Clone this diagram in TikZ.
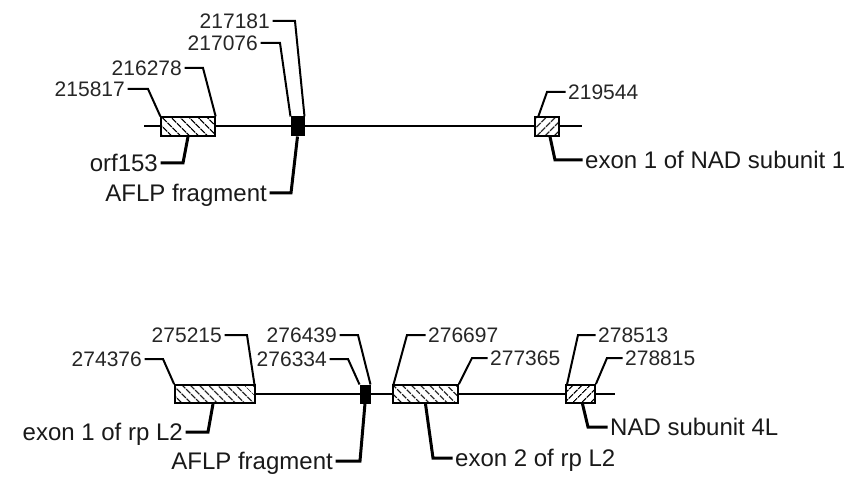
\documentclass[tikz,border=0pt]{standalone}
\usepackage{fontspec}
\setmainfont{Liberation Sans}
\usetikzlibrary{patterns.meta}
\tikzset{
  num/.style={inner sep=2.5pt, font=\fontsize{21}{25}\selectfont, text=black!85, text height=15pt, text depth=0pt},
  lab/.style={inner sep=2.5pt, font=\fontsize{24}{28}\selectfont, text=black!90, text height=17.2pt, text depth=0pt},
  numlead/.style={line width=2pt, black},
  lablead/.style={line width=3pt, black},
  axis/.style={line width=2pt, black},
  gene/.style={draw, line width=1.8pt, inner sep=0pt, preaction={fill=white}},
  hatchback/.style={gene, pattern={Lines[angle=-45, distance=6.5pt, line width=1.3pt]}},
  hatchfwd/.style={gene, pattern={Lines[angle=45, distance=6.5pt, line width=1.3pt]}},
  frag/.style={draw, fill=black, line width=1pt, inner sep=0pt}
}
\begin{document}
\begin{tikzpicture}[x=1pt,y=-1pt]
\useasboundingbox (0,0) rectangle (854,478);
% ---------- top row ----------
\coordinate (T0) at (144,126.5);
\coordinate (T1) at (582,126.5);
\draw[axis] (T0) -- (T1);
\node[hatchback, minimum width=54pt, minimum height=19pt] (orf) at (188,126.5) {};
\node[frag, minimum width=13pt, minimum height=19pt] (aflpA) at (297.5,126.5) {};
\node[hatchfwd, minimum width=24pt, minimum height=19pt] (nadA) at (547,126.5) {};

\node[num, anchor=east] (n215817) at (127.5,89) {215817};
\node[num, anchor=east] (n216278) at (184.5,68) {216278};
\node[num, anchor=east] (n217076) at (260.5,43) {217076};
\node[num, anchor=east] (n217181) at (272.5,21) {217181};
\node[num, anchor=west] (n219544) at (565.5,92) {219544};

\coordinate (b215817) at (148,89);
\coordinate (b216278) at (203,68);
\coordinate (b217076) at (280,43);
\coordinate (b217181) at (295,21);
\coordinate (b219544) at (547,92);
\draw[numlead] (n215817.east) -- (b215817) -- (orf.north west);
\draw[numlead] (n216278.east) -- (b216278) -- (orf.north east);
\draw[numlead] (n217076.east) -- (b217076) -- (aflpA.north west);
\draw[numlead] (n217181.east) -- (b217181) -- (aflpA.north east);
\draw[numlead] (n219544.west) -- (b219544) -- ([xshift=4pt]nadA.north west);

\node[lab, anchor=east] (lorf) at (160.5,163) {orf153};
\node[lab, anchor=east] (laflpA) at (269.5,193) {AFLP fragment};
\node[lab, anchor=west] (lnadA) at (582.5,160) {exon 1 of NAD subunit 1};
\coordinate (borf) at (183,163);
\coordinate (baflpA) at (291,193);
\coordinate (bnadA) at (555,160);
\draw[lablead] (lorf.east) -- (borf) -- (orf.south);
\draw[lablead] (laflpA.east) -- (baflpA) -- (aflpA.south);
\draw[lablead] (lnadA.west) -- (bnadA) -- ([xshift=3pt]nadA.south);

% ---------- bottom row ----------
\coordinate (B0) at (175,394);
\coordinate (B1) at (615,394);
\draw[axis] (B0) -- (B1);
\node[hatchback, minimum width=80pt, minimum height=18pt] (rpA) at (215,394) {};
\node[frag, minimum width=10pt, minimum height=18pt] (aflpB) at (365,394) {};
\node[hatchback, minimum width=65pt, minimum height=18pt] (rpB) at (425.5,394) {};
\node[hatchfwd, minimum width=29pt, minimum height=18pt] (nadB) at (580.5,394) {};

\node[num, anchor=east] (n274376) at (144.5,359) {274376};
\node[num, anchor=east] (n275215) at (224.5,335) {275215};
\node[num, anchor=east] (n276334) at (329.5,359) {276334};
\node[num, anchor=east] (n276439) at (339.5,335) {276439};
\node[num, anchor=west] (n276697) at (425.5,335) {276697};
\node[num, anchor=west] (n277365) at (487.5,358) {277365};
\node[num, anchor=west] (n278513) at (595.5,335) {278513};
\node[num, anchor=west] (n278815) at (622.5,358) {278815};

\coordinate (b274376) at (163,359);
\coordinate (b275215) at (247,335);
\coordinate (b276334) at (348,359);
\coordinate (b276439) at (358,335);
\coordinate (b276697) at (407,335);
\coordinate (b277365) at (472,358);
\coordinate (b278513) at (578,335);
\coordinate (b278815) at (607,358);
\draw[numlead] (n274376.east) -- (b274376) -- (rpA.north west);
\draw[numlead] (n275215.east) -- (b275215) -- ([xshift=-1.5pt]rpA.north east);
\draw[numlead] (n276334.east) -- (b276334) -- (aflpB.north west);
\draw[numlead] (n276439.east) -- (b276439) -- (aflpB.north east);
\draw[numlead] (n276697.west) -- (b276697) -- ([xshift=1.5pt]rpB.north west);
\draw[numlead] (n277365.west) -- (b277365) -- (rpB.north east);
\draw[numlead] (n278513.west) -- (b278513) -- ([xshift=2pt]nadB.north west);
\draw[numlead] (n278815.west) -- (b278815) -- (nadB.north east);

\node[lab, anchor=east] (lrpA) at (185.5,432) {exon 1 of rp L2};
\node[lab, anchor=east] (laflpB) at (335.5,461) {AFLP fragment};
\node[lab, anchor=west] (lrpB) at (452.5,458) {exon 2 of rp L2};
\node[lab, anchor=west] (lnadB) at (607.5,427) {NAD subunit 4L};
\coordinate (brpA) at (208,432);
\coordinate (baflpB) at (360,461);
\coordinate (brpB) at (433,458);
\coordinate (bnadB) at (588,427);
\draw[lablead] (lrpA.east) -- (brpA) -- ([xshift=-2pt]rpA.south);
\draw[lablead] (laflpB.east) -- (baflpB) -- (aflpB.south);
\draw[lablead] (lrpB.west) -- (brpB) -- (rpB.south);
\draw[lablead] (lnadB.west) -- (bnadB) -- ([xshift=2pt]nadB.south);
\end{tikzpicture}
\end{document}
